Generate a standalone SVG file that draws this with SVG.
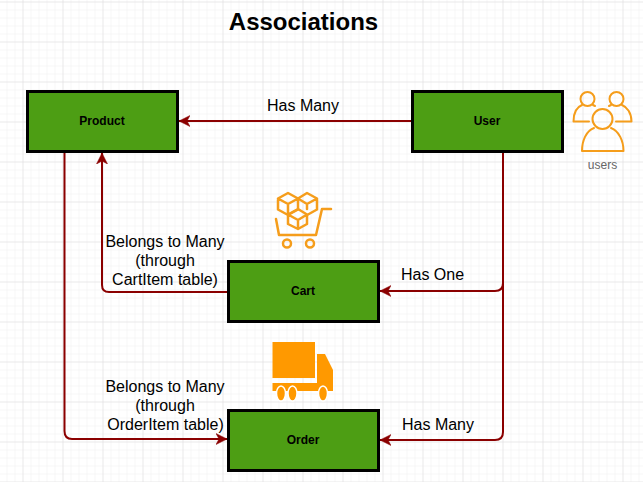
<svg xmlns="http://www.w3.org/2000/svg" width="643" height="482" viewBox="0 0 643 482">
<defs>
<pattern id="minor" width="8" height="8" patternUnits="userSpaceOnUse" x="-1.5" y="1.5"><path d="M8 0H0V8" fill="none" stroke="#f0eef0" stroke-width="1"/></pattern>
<pattern id="major" width="40" height="40" patternUnits="userSpaceOnUse" x="22.5" y="1.5"><path d="M40 0H0V40" fill="none" stroke="#dfdddf" stroke-width="1"/></pattern>
<marker id="arrow" markerUnits="userSpaceOnUse" markerWidth="14" markerHeight="14" refX="11" refY="7" orient="auto"><path d="M0 1.5L11 7L0 12.5L3 7Z" fill="#8b0000" stroke="#8b0000" stroke-width="0.5"/></marker>
</defs>
<style>
.node{fill:#4d9e14;stroke:#000;stroke-width:3}
.nl{font:bold 12px "Liberation Sans",Arial,sans-serif;text-anchor:middle;fill:#000}
.lb{font:16px "Liberation Sans",Arial,sans-serif;text-anchor:middle;fill:#000}
.c{fill:none;stroke:#8b0000;stroke-width:2;marker-end:url(#arrow)}
.ic{fill:none;stroke:#f59d1b;stroke-width:2;stroke-linejoin:round;stroke-linecap:round}
.ib{fill:none;stroke:#f59d1b;stroke-width:2.500;stroke-linejoin:round;stroke-linecap:round}
</style>
<rect width="643" height="482" fill="#fff"/>
<rect width="643" height="482" fill="url(#minor)"/>
<rect width="643" height="482" fill="url(#major)"/>
<text x="303.500" y="30" font-family="Liberation Sans, Arial, sans-serif" font-size="24" font-weight="bold" text-anchor="middle">Associations</text>
<g id="connectors">
<path class="c" d="M412 121H179"/>
<path class="c" d="M228 292H109Q102 292 102 285V153"/>
<path class="c" d="M64.500 152V431Q64.500 439 72 439H227"/>
<path class="c" d="M503 152V283Q503 291 495 291H380"/>
<path class="c" d="M503 280V432Q503 440 495 440H380"/>
</g>
<g id="edge-labels">
<text class="lb" x="303" y="111">Has Many</text>
<text class="lb" x="165" y="247">Belongs to Many</text>
<text class="lb" x="165" y="266">(through</text>
<text class="lb" x="165" y="285">CartItem table)</text>
<text class="lb" x="432.500" y="280">Has One</text>
<text class="lb" x="165" y="392">Belongs to Many</text>
<text class="lb" x="165" y="411">(through</text>
<text class="lb" x="165.500" y="430">OrderItem table)</text>
<text class="lb" x="438" y="430">Has Many</text>
</g>
<g id="product"><rect class="node" x="27.500" y="91.500" width="150" height="60"/><text class="nl" x="102" y="125">Product</text></g>
<g id="user"><rect class="node" x="412.500" y="91.500" width="150" height="60"/><text class="nl" x="487" y="125">User</text></g>
<g id="cart"><rect class="node" x="228.500" y="261.500" width="150" height="60"/><text class="nl" x="303" y="295">Cart</text></g>
<g id="order"><rect class="node" x="228.500" y="410.500" width="150" height="60"/><text class="nl" x="303" y="444">Order</text></g>
<g id="users-icon">
<circle class="ic" cx="587.500" cy="99" r="7"/>
<path class="ic" d="M593 105L595 106M582 105C577 107 573.500 113 573.500 121.500H589"/>
<circle class="ic" cx="616.500" cy="99" r="7"/>
<path class="ic" d="M611 105L609 106M622 105C627 107 631.500 113 631.500 121.500H616"/>
<circle class="ic" cx="602.500" cy="119" r="10"/>
<path class="ic" d="M594 128C586 131 582 141 582 151H623.500C623.500 141 619 131 611 128"/>
<text x="602.500" y="169" font-family="Liberation Sans, Arial, sans-serif" font-size="12" fill="#666" text-anchor="middle">users</text>
</g>
<g id="cart-icon">
<path class="ib" d="M276 219L279 235H316L322 209H331"/>
<circle class="ib" cx="287" cy="243.500" r="4"/>
<circle class="ib" cx="310" cy="243.500" r="4"/>
<path class="ib" d="M288 193L278 198.500V209.500L288 215L298 209.500V198.500ZM278 198.500L288 204L298 198.500M288 204V215"/>
<path class="ib" d="M298 198.500L307 193L317 198.500V209.500L308 214.500M298 198.500L307 204L317 198.500M307 204V209"/>
<path class="ib" d="M298 209L288 214.500V224L298 229L307 224V214.500ZM288 214.500L298 220L307 214.500M298 220V229"/>
</g>
<g id="truck-icon" fill="#ff9900">
<rect x="272.500" y="342" width="42.500" height="36"/>
<path d="M317 354H325L333 370V391H272.500V383H317Z"/>
<ellipse cx="281" cy="393.500" rx="4.500" ry="7.500" stroke="#fff" stroke-width="1.500"/>
<ellipse cx="292.500" cy="393.500" rx="4.500" ry="7.500" stroke="#fff" stroke-width="1.500"/>
<ellipse cx="323" cy="393.500" rx="4.500" ry="7.500" stroke="#fff" stroke-width="1.500"/>
</g>
</svg>
